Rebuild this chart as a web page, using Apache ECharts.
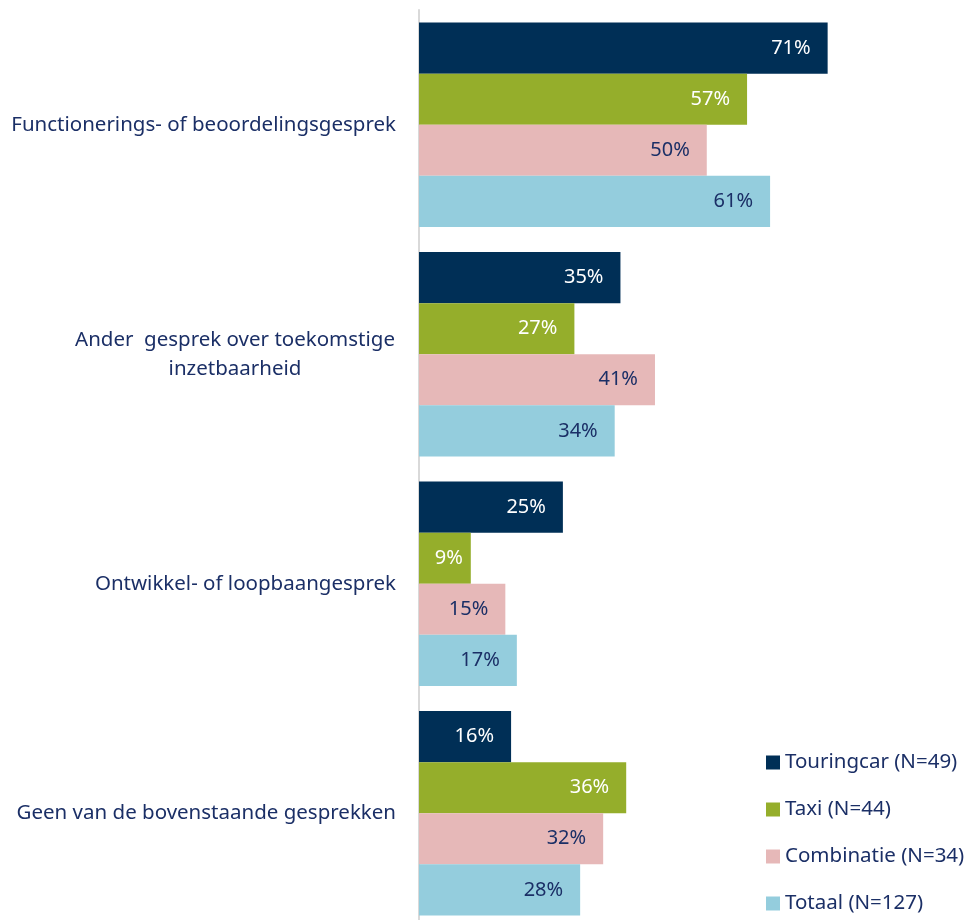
<!DOCTYPE html>
<html>
<head>
<meta charset="utf-8">
<script src="https://cdn.jsdelivr.net/npm/echarts@6/dist/echarts.min.js"></script>
<style>
  html, body { margin: 0; padding: 0; background: #ffffff; overflow: hidden; }
  /* the plot runs a few pixels past the bottom edge of the window */
  #chart { width: 971px; height: 928px; }
</style>
</head>
<body>
<div id="chart"></div>
<script>
// Gesprekstypen per sector (percentages)
const categories = [
  'Functionerings- of beoordelingsgesprek',
  'Ander  gesprek over toekomstige\ninzetbaarheid',
  'Ontwikkel- of loopbaangesprek',
  'Geen van de bovenstaande gesprekken'
];
const seriesNames = ['Touringcar (N=49)', 'Taxi (N=44)', 'Combinatie (N=34)', 'Totaal (N=127)'];
const touringcar = [71, 35, 25, 16];
const taxi = [57, 27, 9, 36];
const combinatie = [50, 41, 15, 32];
const totaal = [61, 34, 17, 28];

const seriesValues = [touringcar, taxi, combinatie, totaal];
const barColors = ['#002F56', '#95AE2B', '#E6B8B8', '#94CDDD'];
const labelColors = ['#ffffff', '#ffffff', '#1B2F66', '#1B2F66'];
const FONT = 'Noto Sans';
const textNavy = '#1B2F66';

const chart = echarts.init(document.getElementById('chart'), null, { renderer: 'canvas' });

const series = seriesValues.map((vals, i) => ({
  name: seriesNames[i],
  type: 'bar',
  barGap: '0%',
  barCategoryGap: '11%',
  itemStyle: { color: barColors[i] },
  label: {
    show: true,
    position: 'insideRight',
    distance: 17,
    formatter: p => p.value + '%',
    color: labelColors[i],
    fontFamily: FONT,
    fontSize: 20
  },
  data: vals.map(v => v < 10 ? { value: v, label: { distance: 8 } } : v)
}));

chart.setOption({
  animation: false,
  color: barColors,
  legend: {
    orient: 'vertical',
    left: 766,
    top: 752,
    height: 170,
    padding: 0,
    itemWidth: 14,
    itemHeight: 14,
    itemGap: 26,
    icon: 'rect',
    textStyle: { color: textNavy, fontFamily: FONT, fontSize: 20.5, lineHeight: 21 },
    data: seriesNames
  },
  grid: { left: 419, right: 34, top: 10, bottom: 0, containLabel: false },
  xAxis: {
    type: 'value',
    min: 0,
    max: 90,
    show: false
  },
  yAxis: {
    type: 'category',
    inverse: true,
    data: categories,
    axisLine: { show: true, lineStyle: { color: '#D9D9D9', width: 2 } },
    axisTick: { show: false },
    axisLabel: {
      margin: 23,
      align: 'right',
      formatter: v => {
        if (v.indexOf('\n') >= 0) {
          return v.split('\n').map(s => '{c|' + s + '}').join('\n');
        }
        return '{r|' + v + '}';
      },
      rich: {
        r: { color: textNavy, fontFamily: FONT, fontSize: 20.5, lineHeight: 29 },
        c: { color: textNavy, fontFamily: FONT, fontSize: 20.5, lineHeight: 29, width: 322, align: 'center' }
      }
    }
  },
  series: series
});
</script>
</body>
</html>
